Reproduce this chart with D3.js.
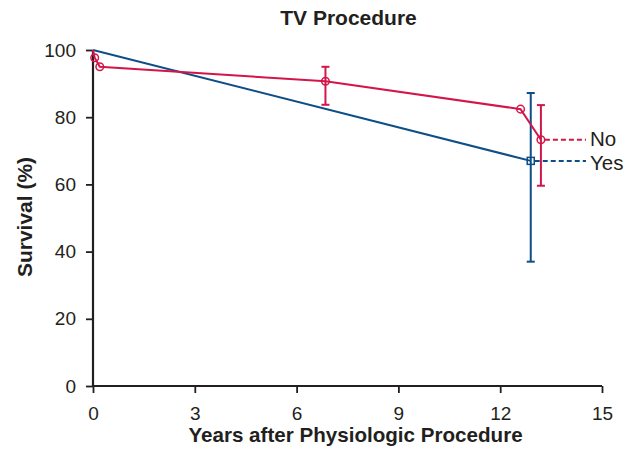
<!DOCTYPE html>
<html>
<head>
<meta charset="utf-8">
<script src="https://cdn.jsdelivr.net/npm/d3@7"></script>
<style>
  html, body { margin: 0; padding: 0; background: #fff; }
  svg { display: block; font-family: "Liberation Sans", Arial, Helvetica, sans-serif; }
</style>
</head>
<body>
<svg id="chart" width="641" height="458"></svg>
<script>
// Survival after tricuspid valve procedure, by physiologic-procedure group
const xTicks = [0, 3, 6, 9, 12, 15];
const yTicks = [0, 20, 40, 60, 80, 100];

const noYears    = [0, 0.05, 0.2, 6.85, 12.6, 13.2];
const noSurvival = [100, 97.7, 95, 90.7, 82.4, 73.3];
const noLower    = [null, null, null, 83.7, null, 59.6];
const noUpper    = [null, null, null, 95.0, null, 83.6];
const noMarker   = [false, true, true, true, true, true];

const yesYears    = [0, 12.9];
const yesSurvival = [100, 67];
const yesLower    = [null, 37];
const yesUpper    = [null, 87.2];
const yesMarker   = [false, true];

const red = "#d3164a";
const blue = "#0d4e87";
const ink = "#231f20";

const svg = d3.select("#chart");
const x = d3.scaleLinear().domain([0, 15]).range([93, 602]);
const y = d3.scaleLinear().domain([0, 100]).range([386, 50]);

// Axes
const xAxis = svg.append("g").attr("transform", `translate(0,${y(0)})`)
  .call(d3.axisBottom(x).tickValues(xTicks).tickSize(7).tickPadding(14).tickSizeOuter(0));
const yAxis = svg.append("g").attr("transform", `translate(${x(0)},0)`)
  .call(d3.axisLeft(y).tickValues(yTicks).tickSize(7).tickPadding(10).tickSizeOuter(0));
[xAxis, yAxis].forEach(g => {
  g.select(".domain").attr("stroke", ink).attr("stroke-width", 2.2);
  g.selectAll(".tick line").attr("stroke", ink).attr("stroke-width", 1.8);
  g.selectAll(".tick text").attr("fill", ink).attr("font-size", 19)
    .attr("font-family", "Liberation Sans, Arial, sans-serif");
});
// extend domain lines so the axes meet at the corner
xAxis.select(".domain").attr("d", `M${x(0) - 1},0H${x(15)}`);
yAxis.select(".domain").attr("d", `M0,${y(100)}V${y(0) + 1}`);

// Titles
svg.append("text").attr("x", 348.5).attr("y", 25).attr("text-anchor", "middle")
  .attr("font-weight", "bold").attr("font-size", 21).attr("fill", ink).text("TV Procedure");
svg.append("text").attr("x", 355.5).attr("y", 442).attr("text-anchor", "middle")
  .attr("font-weight", "bold").attr("font-size", 20.6).attr("fill", ink).text("Years after Physiologic Procedure");
svg.append("text").attr("transform", `translate(31.5,217) rotate(-90)`).attr("text-anchor", "middle")
  .attr("font-weight", "bold").attr("font-size", 21).attr("fill", ink).text("Survival (%)");

function drawSeries(years, surv, lower, upper, marker, color, shape, label, labelBaseline) {
  const pts = years.map((t, i) => ({ t, s: surv[i], lo: lower[i], hi: upper[i], m: marker[i] }));
  const g = svg.append("g");
  g.append("path").datum(pts)
    .attr("d", d3.line().x(d => x(d.t)).y(d => y(d.s)))
    .attr("fill", "none").attr("stroke", color).attr("stroke-width", 2);
  // error bars
  pts.filter(d => d.lo != null).forEach(d => {
    g.append("line").attr("x1", x(d.t)).attr("x2", x(d.t)).attr("y1", y(d.lo)).attr("y2", y(d.hi))
      .attr("stroke", color).attr("stroke-width", 2);
    [d.lo, d.hi].forEach(v => g.append("line")
      .attr("x1", x(d.t) - 4).attr("x2", x(d.t) + 4).attr("y1", y(v)).attr("y2", y(v))
      .attr("stroke", color).attr("stroke-width", 2));
  });
  // markers
  pts.filter(d => d.m).forEach(d => {
    if (shape === "circle") {
      g.append("circle").attr("cx", x(d.t)).attr("cy", y(d.s)).attr("r", 3.8)
        .attr("fill", "none").attr("stroke", color).attr("stroke-width", 1.5);
    } else {
      g.append("rect").attr("x", x(d.t) - 3.5).attr("y", y(d.s) - 3.5).attr("width", 7).attr("height", 7)
        .attr("fill", "none").attr("stroke", color).attr("stroke-width", 1.5);
    }
  });
  // dashed lead to label
  const last = pts[pts.length - 1];
  g.append("line").attr("x1", x(last.t) + 4).attr("x2", 586).attr("y1", y(last.s)).attr("y2", y(last.s))
    .attr("stroke", color).attr("stroke-width", 2).attr("stroke-dasharray", "5,3");
  g.append("text").attr("x", 590).attr("y", labelBaseline).attr("font-size", 20.5).attr("fill", ink).text(label);
}

drawSeries(yesYears, yesSurvival, yesLower, yesUpper, yesMarker, blue, "square", "Yes", 170);
drawSeries(noYears, noSurvival, noLower, noUpper, noMarker, red, "circle", "No", 145.5);
</script>
</body>
</html>
